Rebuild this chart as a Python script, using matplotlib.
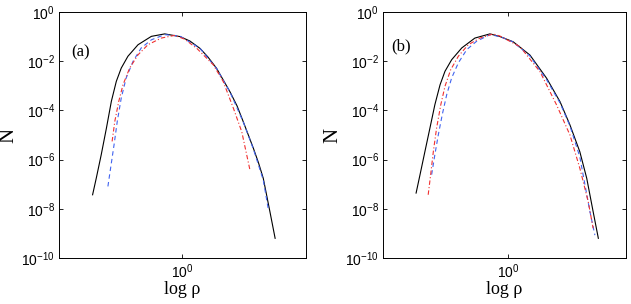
import numpy as np
import matplotlib
matplotlib.use('Agg')
import matplotlib.pyplot as plt
from matplotlib.ticker import FixedLocator, NullLocator

plt.rcParams['mathtext.fontset'] = 'custom'
plt.rcParams['mathtext.rm'] = 'Liberation Sans'
plt.rcParams['mathtext.it'] = 'Liberation Sans'
plt.rcParams['font.family'] = 'Liberation Sans'

# values, stored as log10(rho) and log10(N)
# panel (a)
a_black_x = [-0.362, -0.347, -0.327, -0.306, -0.286, -0.266, -0.246, -0.219, -0.178, -0.124,
             -0.070, -0.008, 0.032, 0.073, 0.105, 0.140, 0.194, 0.223, 0.248, 0.289,
             0.310, 0.329, 0.356, 0.377]
a_black_y = [-7.43, -6.75, -5.80, -4.72, -3.63, -2.82, -2.28, -1.80, -1.33, -0.99,
             -0.89, -1.00, -1.18, -1.48, -1.83, -2.29, -3.24, -3.82, -4.46, -5.54,
             -6.14, -6.76, -8.12, -9.20]
a_blue_x = [-0.300, -0.289, -0.275, -0.262, -0.246, -0.226, -0.198, -0.165, -0.124, -0.070,
            -0.008, 0.073, 0.140, 0.194, 0.248, 0.289, 0.329, 0.350]
a_blue_y = [-7.09, -6.34, -5.39, -4.44, -3.50, -2.68, -2.00, -1.46, -1.13, -0.92,
            -0.98, -1.48, -2.30, -3.25, -4.47, -5.57, -6.83, -8.05]
a_red_x = [-0.283, -0.272, -0.256, -0.239, -0.212, -0.178, -0.138, -0.084, -0.030, 0.010,
           0.060, 0.127, 0.167, 0.208, 0.242, 0.275]
a_red_y = [-5.26, -4.44, -3.63, -2.96, -2.28, -1.74, -1.33, -1.06, -0.95, -1.10,
           -1.48, -2.15, -2.83, -3.91, -4.87, -6.42]

# panel (b)
b_black_x = [-0.372, -0.356, -0.336, -0.316, -0.296, -0.275, -0.255, -0.228, -0.187, -0.134,
             -0.073, -0.032, 0.021, 0.089, 0.157, 0.211, 0.251, 0.291, 0.319, 0.345, 0.366]
b_black_y = [-7.36, -6.61, -5.66, -4.72, -3.77, -2.96, -2.41, -1.94, -1.46, -1.06,
             -0.89, -1.00, -1.21, -1.75, -2.70, -3.65, -4.59, -5.68, -6.76, -8.12, -9.20]
b_blue_x = [-0.309, -0.296, -0.282, -0.266, -0.248, -0.228, -0.201, -0.167, -0.127, -0.073,
            -0.032, 0.021, 0.089, 0.157, 0.211, 0.251, 0.291, 0.332, 0.352]
b_blue_y = [-6.61, -5.80, -4.99, -4.17, -3.36, -2.68, -2.07, -1.53, -1.19, -0.92,
            -1.00, -1.22, -1.79, -2.76, -3.70, -4.63, -5.89, -8.12, -9.07]
b_red_x = [-0.323, -0.313, -0.302, -0.289, -0.272, -0.255, -0.232, -0.201, -0.161, -0.113,
           -0.060, -0.032, 0.049, 0.130, 0.197, 0.251, 0.291, 0.325, 0.345]
b_red_y = [-7.43, -6.61, -5.66, -4.72, -3.77, -3.02, -2.35, -1.80, -1.33, -1.06,
           -0.89, -0.98, -1.41, -2.43, -3.78, -5.00, -6.35, -7.71, -8.79]

y_ticks = [1e-10, 1e-8, 1e-6, 1e-4, 1e-2, 1e0]
x_ticks = [1.0]

panels = [
    dict(rect=[59/631, 46/304, 247/631, 246/304], xlim=(-0.498, 0.502), tag='(a)', tagpos=(0.049, 0.837),
         black=(a_black_x, a_black_y), blue=(a_blue_x, a_blue_y), red=(a_red_x, a_red_y)),
    dict(rect=[383/631, 46/304, 243/631, 246/304], xlim=(-0.506, 0.478), tag='(b)', tagpos=(0.033, 0.862),
         black=(b_black_x, b_black_y), blue=(b_blue_x, b_blue_y), red=(b_red_x, b_red_y)),
]

fig = plt.figure(figsize=(6.31, 3.04), dpi=100)

for p in panels:
    ax = fig.add_axes(p['rect'])
    ax.set_xscale('log')
    ax.set_yscale('log')
    bx, by = p['black']
    ux, uy = p['blue']
    rx, ry = p['red']
    ax.plot(10**np.array(bx), 10**np.array(by), '-', color='black', lw=0.8)
    ax.plot(10**np.array(ux), 10**np.array(uy), '--', color='#4063f0', lw=0.8, dashes=(4, 3))
    ax.plot(10**np.array(rx), 10**np.array(ry), '-.', color='#f03030', lw=0.8, dashes=(4, 2, 1, 2))
    ax.set_xlim(10**p['xlim'][0], 10**p['xlim'][1])
    ax.set_ylim(1e-10, 1)
    ax.xaxis.set_major_locator(FixedLocator(x_ticks))
    ax.xaxis.set_minor_locator(NullLocator())
    ax.yaxis.set_major_locator(FixedLocator(y_ticks))
    ax.yaxis.set_minor_locator(NullLocator())
    ax.tick_params(direction='in', length=3, width=0.6, top=True, right=True, labelsize=10, pad=3)
    for s in ax.spines.values():
        s.set_linewidth(0.7)
    ax.set_xlabel('log ρ', family='Liberation Serif', fontsize=13, labelpad=0)
    ax.set_ylabel('N', family='Liberation Serif', fontsize=15, labelpad=2)
    ax.text(p['tagpos'][0], p['tagpos'][1], p['tag'], transform=ax.transAxes,
            family='Liberation Serif', fontsize=12, va='center', ha='left')

fig.savefig('out.png', dpi=100)
